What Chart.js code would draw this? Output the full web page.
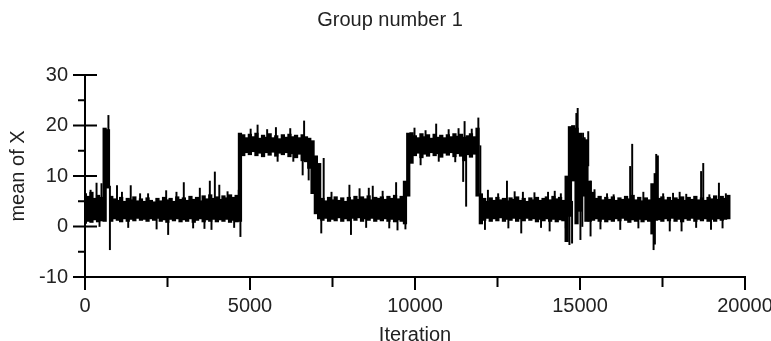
<!DOCTYPE html>
<html>
<head>
<meta charset="utf-8">
<title>Group number 1</title>
<script src="https://cdn.jsdelivr.net/npm/chart.js@4.4.1/dist/chart.umd.min.js"></script>
<style>
  html, body { margin: 0; padding: 0; background: #fff; overflow: hidden; }
  .wrap { position: relative; width: 771px; height: 341px; }
</style>
</head>
<body>
<div class="wrap"><canvas id="trace"></canvas></div>
<script>
const BIN = 100;

const bandHi = [
  6.5, 6.0, 6.8, 5.6, 6.2, 5.8, 19.5, 19.2, 6.0, 5.5,
  5.2, 5.8, 5.0, 5.6, 5.3, 5.9, 5.1, 5.5, 5.0, 5.7,
  5.2, 4.9, 5.6, 5.1, 5.8, 5.3, 5.6, 5.0, 5.9, 5.4,
  5.7, 5.2, 6.0, 5.4, 5.8, 5.1, 6.1, 5.5, 6.3, 5.6,
  5.9, 5.4, 6.1, 5.7, 6.3, 5.8, 6.2, 18.5, 18.2, 17.6,
  18.3, 17.8, 18.5, 17.5, 18.1, 17.7, 18.4, 17.6, 18.0, 17.4,
  18.2, 17.7, 18.3, 17.8, 18.1, 17.6, 18.2, 17.8, 17.5, 17.0,
  14.0, 12.5, 5.6, 5.1, 5.8, 5.3, 5.9, 5.2, 5.7, 5.0,
  5.8, 5.3, 6.0, 5.4, 5.9, 5.5, 6.1, 5.3, 5.8, 5.6,
  5.9, 5.4, 6.0, 5.6, 6.2, 5.5, 6.0, 9.0, 18.5, 18.6,
  18.0, 17.6, 18.4, 17.8, 18.2, 17.5, 18.3, 17.7, 18.1, 17.6,
  18.2, 17.8, 18.4, 17.9, 18.3, 17.7, 18.0, 18.4, 17.8, 19.5,
  6.5, 5.6, 5.0, 5.7, 5.2, 5.8, 5.3, 5.6, 5.1, 5.7,
  5.4, 5.9, 5.2, 5.6, 5.0, 5.7, 5.3, 5.8, 5.2, 5.6,
  5.9, 5.3, 6.0, 5.5, 5.8, 5.2, 10.0, 19.8, 20.0, 19.5,
  18.5, 17.5, 17.2, 9.0, 6.8, 5.6, 6.0, 5.3, 5.8, 5.4,
  5.9, 5.2, 5.7, 5.4, 6.0, 5.5, 6.2, 5.3, 5.8, 5.1,
  5.7, 5.3, 8.5, 10.5, 5.6, 5.9, 5.3, 5.8, 5.2, 5.7,
  5.4, 5.9, 5.2, 5.8, 5.4, 6.0, 5.3, 5.7, 5.2, 5.8,
  5.5, 6.1, 5.4, 6.0, 5.6, 6.2
];

const bandLo = [
  0.6, 1.0, 0.8, 1.3, 0.9, 1.1, 1.0, 7.6, 1.0, 1.5,
  1.2, 0.9, 1.5, 1.0, 1.4, 1.1, 1.6, 1.2, 1.4, 1.0,
  1.5, 1.2, 1.6, 1.0, 1.3, 0.8, 1.4, 1.1, 1.5, 0.9,
  1.3, 1.0, 1.5, 0.8, 1.2, 1.5, 0.9, 1.3, 1.0, 1.4,
  0.9, 1.3, 1.0, 1.4, 0.8, 1.2, 0.9, 1.0, 14.0, 14.6,
  14.2, 14.8, 14.0, 14.5, 13.8, 14.6, 14.1, 14.7, 13.9, 14.5,
  14.2, 14.6, 13.8, 14.4, 13.6, 14.3, 13.0, 12.8, 11.5, 6.5,
  2.5, 1.5, 1.2, 1.6, 1.0, 1.4, 1.1, 1.7, 1.0, 1.5,
  1.1, 1.6, 1.2, 1.7, 1.0, 1.5, 1.2, 1.6, 1.0, 1.4,
  1.1, 1.5, 1.0, 1.4, 0.9, 1.3, 1.0, 0.5, 6.0, 12.5,
  14.0, 14.5, 13.6, 14.3, 13.9, 14.6, 14.0, 14.4, 13.7, 14.5,
  14.1, 14.6, 13.8, 14.4, 13.9, 13.0, 14.2, 13.7, 14.3, 6.0,
  0.5, 1.2, 1.6, 1.0, 1.5, 1.1, 1.7, 1.0, 1.4, 1.2,
  1.6, 1.0, 1.5, 1.1, 1.6, 1.2, 1.5, 0.9, 1.4, 1.1,
  1.5, 1.0, 1.4, 0.9, 1.3, 1.1, -3.0, 2.0, 9.0, 0.5,
  3.0, 6.0, 1.0, 1.0, 1.2, 1.5, 1.0, 1.4, 0.9, 1.3,
  1.0, 1.5, 1.1, 1.6, 1.2, 0.8, 1.3, 1.0, 1.4, 0.9,
  1.3, 1.0, -1.5, 1.2, 1.3, 1.0, 1.5, 1.1, 1.6, 1.0,
  1.4, 0.9, 1.5, 1.2, 1.6, 1.0, 1.4, 1.1, 1.5, 1.0,
  1.4, 1.0, 1.5, 1.2, 1.4, 1.5
];

// single-iteration spikes poking out of the band
const spikeIter = [
  150, 330, 420, 480, 560, 690, 735, 950, 1100, 1290,
  1366, 1650, 1892, 2150, 2440, 2500, 2752, 2974, 3257, 3460,
  3600, 3763, 3813, 3915, 4050, 4300, 4500, 4640, 4690,
  5000, 5210, 5500, 5766, 5817, 6200, 6293, 6576, 6620, 6758,
  7140, 7213,
  7450, 7993, 8040, 8300, 8500, 8580, 8700, 9000, 9200, 9408, 9450, 9650, 9690,
  9965, 10150, 10300, 10622, 10700, 11000, 11200, 11300, 11440, 11483, 11530, 11700, 11900, 11960,
  12100, 12190, 12500, 12767, 12810, 13000, 13200, 13250, 13600, 13800, 14012, 14060, 14215, 14400, 14550,
  14660, 14700, 14740, 14870, 14910, 14993, 15050, 15073, 15120, 15230, 15300, 15420,
  15600, 15800, 16000, 16200, 16500, 16562, 16750, 16900, 17210, 17250, 17290, 17340, 17500,
  17700, 17800, 18000, 18058, 18200, 18500, 18650, 18715, 18900, 18950, 19190, 19300, 19400
];

const spikeLo = [
  3, 3, 0.0, 3, 3, 10, -4.6, 3, 3, -0.2,
  3, 3, 3, -0.5, 3, -1.6, 3, 3, -0.3, 3,
  -0.4, 3, -0.6, 3, 3, 3, -0.2, 3, -2.0,
  16, 16, 16, 16, 12.9, 16, 12.9, 10.2, 16, 9.2,
  -1.3, 3,
  3, 3, -1.6, 3, -0.2, 3, 3, 3, -0.3, 3, -0.7, 3, -0.5,
  16, 12.2, 16, 16, 12.9, 16, 12.8, 16, 8.9, 16, 4.0, 16, 16, 6.3,
  -0.6, 3, 3, 3, -0.3, 3, -1.3, 3, 3, -0.2, 3, -0.9, 3, 3, -0.3,
  -3.6, 3, -3.3, 12, 12, -2.6, 0.0, 14, 12, 12, -1.9, 3,
  -0.5, 3, 3, -0.6, 3, 3, -0.3, 3, -4.6, -3.5, 3, 3, 3,
  -0.9, 3, 3, -0.9, 3, -0.2, 3, 3, 3, -0.6, 3, -0.3, 3
];

const spikeHi = [
  7.2, 8.6, 3, 8.5, 8.2, 22.0, 8, 8.1, 6.8, 3,
  8.1, 6.5, 6.5, 3, 7.1, 3, 6.8, 8.7, 3, 7.6,
  3, 9.0, 3, 10.8, 8.2, 6.9, 3, 7.2, 3,
  19.3, 20.1, 19.2, 19.6, 16, 19.4, 16, 16, 20.9, 16,
  5, 13.5,
  6.8, 8.2, 3, 7.5, 3, 7.6, 8.0, 7.0, 3, 8.7, 3, 8.0, 3,
  19.5, 16, 19.0, 20.3, 16, 19.2, 16, 19.4, 16, 20.8, 16, 19.3, 21.5, 16,
  3, 7.2, 6.5, 9.0, 3, 6.9, 3, 6.8, 6.7, 3, 6.8, 3, 7.0, 6.5, 3,
  5, 18.5, 5, 22.4, 23.4, 12, 13, 18.5, 17.6, 18.8, 9, 7.3,
  3, 6.5, 6.3, 3, 11.9, 16.3, 3, 6.8, 3, 3, 14.3, 14.0, 6.5,
  3, 6.6, 6.8, 3, 6.4, 3, 10.9, 12.5, 6.3, 3, 8.6, 3, 6.5
];

const xTickStep = 2500;
const xLabelStep = 5000;
const yTickStep = 5;
const yLabelStep = 10;

const TEXT = "#222";
const FONT = "'Liberation Sans', Arial, sans-serif";

// tick marks: long ones at labelled values, short ones between
const axisTicks = {
  id: "axisTicks",
  afterDraw(chart) {
    const { ctx, chartArea, scales } = chart;
    ctx.save();
    ctx.strokeStyle = "#000";
    ctx.lineWidth = 2;
    ctx.beginPath();
    for (const t of scales.x.ticks) {
      const px = scales.x.getPixelForValue(t.value);
      const len = t.value % xLabelStep === 0 ? 13 : 10;
      ctx.moveTo(px, chartArea.bottom);
      ctx.lineTo(px, chartArea.bottom + len);
    }
    for (const t of scales.y.ticks) {
      const py = scales.y.getPixelForValue(t.value);
      if (t.value % yLabelStep === 0) {
        ctx.moveTo(chartArea.left - 12, py);
        ctx.lineTo(chartArea.left + 12, py);
      } else {
        ctx.moveTo(chartArea.left - 7, py);
        ctx.lineTo(chartArea.left, py);
      }
    }
    ctx.stroke();
    ctx.restore();
  },
};

new Chart(document.getElementById("trace"), {
  type: "bar",
  data: {
    datasets: [
      {
        label: "band",
        data: bandHi.map((hi, i) => ({ x: i * BIN + BIN / 2, y: [bandLo[i], hi] })),
        backgroundColor: "#000",
        borderWidth: 0,
        barThickness: 3.6,
        xAxisID: "x",
      },
      {
        label: "spikes",
        data: spikeIter.map((it, i) => ({ x: it, y: [spikeLo[i], spikeHi[i]] })),
        backgroundColor: "#000",
        borderWidth: 0,
        barThickness: 1.3,
        xAxisID: "x2",
      },
    ],
  },
  options: {
    responsive: true,
    maintainAspectRatio: false,
    animation: false,
    devicePixelRatio: 1,
    layout: { padding: { left: 9, right: 0, top: 0, bottom: 0 } },
    plugins: {
      legend: { display: false },
      tooltip: { enabled: false },
      title: {
        display: true,
        text: "Group number 1",
        color: TEXT,
        font: { family: FONT, size: 20, weight: "normal" },
        padding: { top: 8, bottom: 43 },
      },
    },
    scales: {
      x: {
        type: "linear",
        min: 0,
        max: 20000,
        offset: false,
        grid: { display: false, drawTicks: true, tickLength: 13 },
        border: { display: true, color: "#000", width: 2 },
        ticks: {
          stepSize: xTickStep,
          autoSkip: false,
          maxRotation: 0,
          padding: 4,
          color: TEXT,
          font: { family: FONT, size: 20 },
          callback: (v) => (v % xLabelStep === 0 ? String(v) : ""),
        },
        title: {
          display: true,
          text: "Iteration",
          color: TEXT,
          font: { family: FONT, size: 20 },
          padding: { top: 0, bottom: -6 },
        },
        afterFit(scale) {
          scale.height = 64;
          scale.paddingLeft = 0;
          scale.paddingRight = 26;
        },
      },
      x2: { type: "linear", min: 0, max: 20000, offset: false, display: false },
      y: {
        min: -10,
        max: 30,
        grid: { display: false, drawTicks: true, tickLength: 12 },
        border: { display: true, color: "#000", width: 2 },
        ticks: {
          stepSize: yTickStep,
          autoSkip: false,
          padding: 5,
          color: TEXT,
          font: { family: FONT, size: 20 },
          callback: (v) => (v % yLabelStep === 0 ? String(v) : ""),
        },
        title: {
          display: true,
          text: "mean of X",
          color: TEXT,
          font: { family: FONT, size: 20 },
          padding: { top: -3, bottom: 0 },
        },
        afterFit(scale) {
          scale.width = 76;
          scale.paddingTop = 0;
          scale.paddingBottom = 0;
        },
      },
    },
  },
  plugins: [axisTicks],
});
</script>
</body>
</html>
